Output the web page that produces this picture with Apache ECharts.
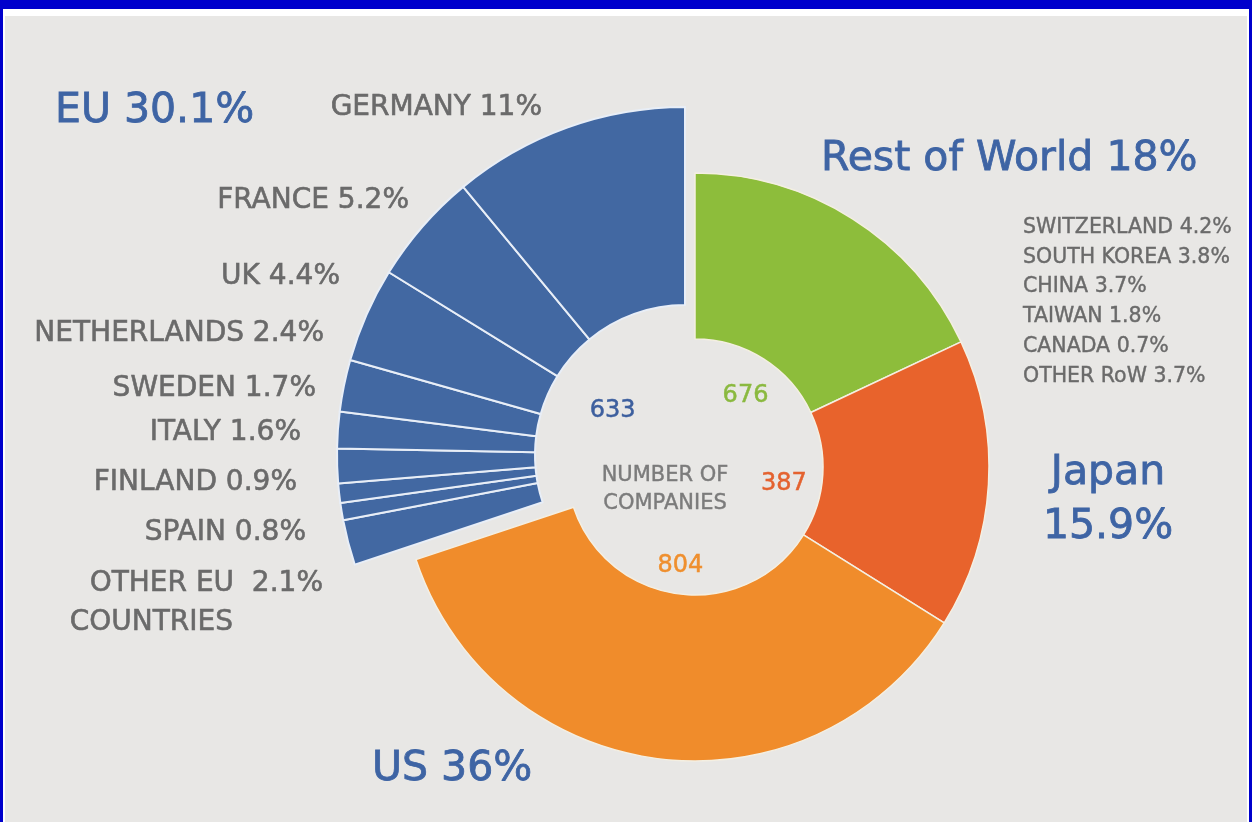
<!DOCTYPE html>
<html><head><meta charset="utf-8">
<script src="https://cdn.jsdelivr.net/npm/echarts@6/dist/echarts.min.js"></script>
<style>
html,body{margin:0;padding:0;width:1252px;height:822px;overflow:hidden;background:#0000cc;}
#frame{position:absolute;left:3px;top:9px;right:3px;bottom:0;background:#ffffff;}
#bg{position:absolute;left:5px;top:16px;right:5px;bottom:0;background:#e8e7e5;}
#chart{position:absolute;left:0;top:0;width:1252px;height:822px;}
</style></head><body>
<div id="frame"></div><div id="bg"></div><div id="chart"></div>
<script>
// ---- data ----
const regionNames = ['Rest of World', 'Japan', 'US', 'EU'];
const regionShares = [18, 15.9, 36, 30.1];
const regionCompanies = [676, 387, 804, 633];
const euCountries = ['GERMANY', 'FRANCE', 'UK', 'NETHERLANDS', 'SWEDEN', 'ITALY', 'FINLAND', 'SPAIN', 'OTHER EU COUNTRIES'];
const euShares = [11, 5.2, 4.4, 2.4, 1.7, 1.6, 0.9, 0.8, 2.1];
const rowCountries = ['SWITZERLAND', 'SOUTH KOREA', 'CHINA', 'TAIWAN', 'CANADA', 'OTHER RoW'];
const rowShares = [4.2, 3.8, 3.7, 1.8, 0.7, 3.7];
const centerLabel = ['NUMBER OF', 'COMPANIES'];

// ---- styles / layout ----
const FONT = 'DejaVu Sans';
const regionColors = ['#8dbd3b', '#e8632c', '#f08c2b', '#4268a2'];
const countColors = ['#8ab93f', '#e4622f', '#ef8f2e', '#3d5f9e'];
const BLUE_TEXT = '#3e64a4';
const GRAY_TEXT = '#6a6a6a';
const MAIN_CENTER = [695, 467], MAIN_R = [128, 294];
const EU_CENTER = [685, 455], EU_R = [150, 348];
const regionLabelPos = [
  { x: 821, y: 159, align: 'left' },
  { x: 1108, y: 500, align: 'center' },
  { x: 372, y: 769, align: 'left' },
  { x: 55, y: 111, align: 'left' }
];
const euLabelPos = [
  { x: 542, y: 108 }, { x: 409, y: 201 }, { x: 340, y: 277 }, { x: 324, y: 334 },
  { x: 316, y: 389 }, { x: 301, y: 433 }, { x: 297, y: 483 }, { x: 306, y: 533 },
  { x: 323, y: 603 }
];
const countLabelShift = [[-2, 12], [-9, 11], [-3, 1], [-3, 1]];

const nonEuTotal = regionShares.slice(0, 3).reduce((a, b) => a + b, 0);
const euIndex = regionNames.indexOf('EU');

const mainData = regionNames.map((n, i) => ({
  name: n, value: regionShares[i],
  itemStyle: i === euIndex
    ? { color: 'rgba(0,0,0,0)', borderWidth: 0 }
    : { color: regionColors[i], borderColor: '#f4efe2', borderWidth: 1.5 }
}));

const euData = [{ name: '_rest', value: nonEuTotal, itemStyle: { color: 'rgba(0,0,0,0)', borderWidth: 0 }, label: { show: false } }]
  .concat(euCountries.map((n, i) => ({ name: n, value: euShares[i] })).reverse());

const countData = regionNames.map((n, i) => ({
  name: n, value: regionShares[i], count: regionCompanies[i],
  label: { color: countColors[i], textBorderColor: countColors[i] }
}));

const chart = echarts.init(document.getElementById('chart'), null, { renderer: 'canvas' });
chart.setOption({
  animation: false,
  backgroundColor: 'transparent',
  textStyle: { fontFamily: FONT },
  series: [
    {
      type: 'pie', name: 'regions', center: MAIN_CENTER, radius: MAIN_R,
      startAngle: 90, clockwise: true, avoidLabelOverlap: false, silent: true,
      data: mainData,
      label: {
        show: true, position: 'outside', fontFamily: FONT, fontSize: 41, color: BLUE_TEXT,
        textBorderColor: BLUE_TEXT, textBorderWidth: 0.8,
        lineHeight: 54, overflow: 'none',
        formatter: p => p.name === 'Japan' ? p.name + '\n' + p.value + '%' : p.name + ' ' + p.value + '%'
      },
      labelLine: { show: false },
      labelLayout: p => {
        const pos = regionLabelPos[p.dataIndex];
        return { x: pos.x, y: pos.y, align: pos.align, verticalAlign: 'middle' };
      }
    },
    {
      type: 'pie', name: 'eu', center: EU_CENTER, radius: EU_R,
      startAngle: 90, clockwise: true, avoidLabelOverlap: false, silent: true,
      data: euData,
      itemStyle: { color: regionColors[euIndex], borderColor: '#e8eef7', borderWidth: 2 },
      label: {
        show: true, position: 'outside', fontFamily: FONT, fontSize: 28, color: GRAY_TEXT, overflow: 'none',
        textBorderColor: GRAY_TEXT, textBorderWidth: 0.6,
        formatter: p => {
          const k = p.name.indexOf(' COUNTRIES');
          if (k > 0) return '{a|' + p.name.slice(0, k) + '  ' + p.value + '%}\n{b|COUNTRIES}';
          return p.name + ' ' + p.value + '%';
        },
        rich: {
          a: { fontFamily: FONT, fontSize: 28, color: GRAY_TEXT, lineHeight: 39, textBorderColor: GRAY_TEXT, textBorderWidth: 0.6 },
          b: { fontFamily: FONT, fontSize: 28, color: GRAY_TEXT, lineHeight: 39, padding: [0, 90, 0, 0], textBorderColor: GRAY_TEXT, textBorderWidth: 0.6 }
        }
      },
      labelLine: { show: false },
      labelLayout: p => {
        const idx = euCountries.length - p.dataIndex;
        const pos = euLabelPos[idx];
        if (!pos) return {};
        return { x: pos.x, y: pos.y, align: 'right', verticalAlign: 'middle' };
      }
    },
    {
      type: 'pie', name: 'counts', center: MAIN_CENTER, radius: [0, 190],
      startAngle: 90, clockwise: true, avoidLabelOverlap: false, silent: true, z: 5,
      data: countData,
      itemStyle: { color: 'rgba(0,0,0,0)', borderWidth: 0 },
      label: {
        show: true, position: 'inside', fontFamily: FONT, fontSize: 24, textBorderWidth: 0.5,
        formatter: p => String(p.data.count)
      },
      labelLine: { show: false },
      labelLayout: p => {
        const s = countLabelShift[p.dataIndex];
        return { dx: s[0], dy: s[1] };
      }
    }
  ],
  graphic: [
    {
      type: 'text', x: 665, y: 490, silent: true,
      style: {
        text: centerLabel.join('\n'), font: '21px "DejaVu Sans"', fill: '#7b7b7b',
        stroke: '#7b7b7b', lineWidth: 0.4,
        align: 'center', verticalAlign: 'middle', lineHeight: 28
      }
    },
    {
      type: 'text', x: 1023, y: 302, silent: true,
      style: {
        text: rowCountries.map((c, i) => c + ' ' + rowShares[i] + '%').join('\n'),
        font: '20.5px "DejaVu Sans"', fill: GRAY_TEXT, stroke: GRAY_TEXT, lineWidth: 0.4,
        align: 'left', verticalAlign: 'middle', lineHeight: 29.7
      }
    }
  ]
});
</script>
</body></html>
